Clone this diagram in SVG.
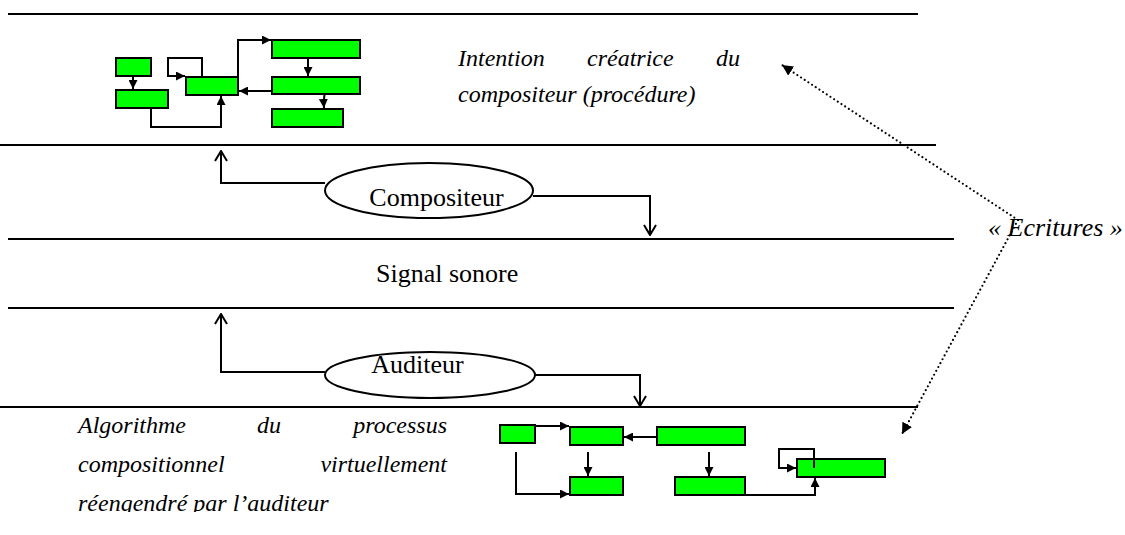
<svg xmlns="http://www.w3.org/2000/svg" width="1125" height="535" viewBox="0 0 1125 535">
<style>
.rule{stroke:#000;stroke-width:2.2;fill:none}
.box{fill:#00ff00;stroke:#000;stroke-width:2}
.c{stroke:#000;stroke-width:2;fill:none}
.big{stroke:#000;stroke-width:2;fill:none}
.dot{stroke:#000;stroke-width:2.2;fill:none;stroke-dasharray:0 4.4;stroke-linecap:round}
.ell{fill:#fff;stroke:#000;stroke-width:2}
.t{font-family:"Liberation Serif","Times New Roman",serif;font-size:26px;fill:#000}
.ti{font-family:"Liberation Serif","Times New Roman",serif;font-size:24px;font-style:italic;fill:#000}
.te{font-family:"Liberation Serif","Times New Roman",serif;font-size:26px;font-style:italic;fill:#000}
</style>
<defs>
<marker id="tri" viewBox="0 0 10 10" refX="10" refY="5" markerWidth="9" markerHeight="9" markerUnits="userSpaceOnUse" orient="auto">
<path d="M0,0 L10,5 L0,10 z" fill="#000"/>
</marker>
<marker id="vee" viewBox="0 0 12 14" refX="11" refY="7" markerWidth="12" markerHeight="14" markerUnits="userSpaceOnUse" orient="auto">
<path d="M1,1 L11,7 L1,13" fill="none" stroke="#000" stroke-width="2"/>
</marker>
<marker id="dtri" viewBox="0 0 10 10" refX="10" refY="5" markerWidth="11" markerHeight="11" markerUnits="userSpaceOnUse" orient="auto">
<path d="M0,0 L10,5 L0,10 z" fill="#000"/>
</marker>
<clipPath id="clipB"><rect x="0" y="400" width="500" height="112"/></clipPath>
</defs>

<g id="rules">
<line class="rule" x1="8" y1="14" x2="918" y2="14"/>
<line class="rule" x1="0" y1="145" x2="936" y2="145"/>
<line class="rule" x1="8" y1="239" x2="954" y2="239"/>
<line class="rule" x1="8" y1="308" x2="954" y2="308"/>
<line class="rule" x1="0" y1="407" x2="918" y2="407"/>
</g>

<g id="connectors">
<!-- top block diagram -->
<line class="c" x1="133" y1="76" x2="133" y2="89" marker-end="url(#tri)"/>
<path class="c" d="M202,77 L202,58 L168,58 L168,76 L185,76" marker-end="url(#tri)"/>
<path class="c" d="M151,108 L151,127 L221,127 L221,96" marker-end="url(#tri)"/>
<path class="c" d="M238,77 L238,40 L271,40" marker-end="url(#tri)"/>
<line class="c" x1="308" y1="58" x2="308" y2="76" marker-end="url(#tri)"/>
<line class="c" x1="272" y1="91" x2="239" y2="91" marker-end="url(#tri)"/>
<path class="c" d="M327,89 Q323,94 324,108" marker-end="url(#tri)"/>
<!-- compositeur -->
<path class="big" d="M325,183 L221,183 L221,151" marker-end="url(#vee)"/>
<path class="big" d="M533,196 L650,196 L650,235" marker-end="url(#vee)"/>
<!-- auditeur -->
<path class="big" d="M325,372 L221,372 L221,314" marker-end="url(#vee)"/>
<path class="big" d="M535,375 L640,375 L640,406" marker-end="url(#vee)"/>
<!-- bottom block diagram -->
<line class="c" x1="535" y1="426" x2="569" y2="426" marker-end="url(#tri)"/>
<line class="c" x1="657" y1="437" x2="624" y2="437" marker-end="url(#tri)"/>
<line class="c" x1="588" y1="452" x2="588" y2="476" marker-end="url(#tri)"/>
<path class="c" d="M516,452 L516,494 L569,494" marker-end="url(#tri)"/>
<line class="c" x1="709" y1="452" x2="709" y2="476" marker-end="url(#tri)"/>
<path class="c" d="M745,495 L815,495 L815,478" marker-end="url(#tri)"/>
<path class="c" d="M814,468 L814,449 L779,449 L779,468 L796,468" marker-end="url(#tri)"/>
<!-- dotted Ecritures -->
<line class="dot" x1="1018" y1="220" x2="782" y2="65" marker-end="url(#dtri)"/>
<line class="dot" x1="1018" y1="220" x2="902" y2="434" marker-end="url(#dtri)"/>
</g>

<g id="top-blocks">
<rect class="box" x="116" y="58" width="35" height="18"/>
<rect class="box" x="116" y="90" width="52" height="18"/>
<rect class="box" x="186" y="77" width="52" height="18"/>
<rect class="box" x="272" y="40" width="88" height="18"/>
<rect class="box" x="272" y="77" width="88" height="17"/>
<rect class="box" x="272" y="109" width="71" height="18"/>
</g>

<g id="intention">
<text class="ti" x="458" y="66">Intention</text>
<text class="ti" x="587" y="66">créatrice</text>
<text class="ti" x="740" y="66" text-anchor="end">du</text>
<text class="ti" x="458" y="102">compositeur (procédure)</text>
</g>

<g id="compositeur">
<ellipse class="ell" cx="429" cy="190.5" rx="104" ry="27.5"/>
<text class="t" x="436.5" y="205.5" text-anchor="middle">Compositeur</text>
</g>

<g id="signal">
<text class="t" x="376" y="282">Signal sonore</text>
</g>

<g id="auditeur">
<ellipse class="ell" cx="430" cy="375" rx="105" ry="23"/>
<text class="t" x="417.5" y="373" text-anchor="middle">Auditeur</text>
</g>

<g id="algorithme" clip-path="url(#clipB)">
<text class="ti" x="78" y="433">Algorithme</text>
<text class="ti" x="257" y="433">du</text>
<text class="ti" x="447" y="433" text-anchor="end">processus</text>
<text class="ti" x="78" y="472">compositionnel</text>
<text class="ti" x="447" y="472" text-anchor="end">virtuellement</text>
<text class="ti" x="78" y="511">réengendré par l’auditeur</text>
</g>

<g id="bottom-blocks">
<rect class="box" x="500" y="425" width="35" height="18"/>
<rect class="box" x="570" y="427" width="53" height="18"/>
<rect class="box" x="657" y="427" width="88" height="18"/>
<rect class="box" x="570" y="477" width="53" height="18"/>
<rect class="box" x="675" y="477" width="70" height="18"/>
<rect class="box" x="797" y="459" width="88" height="18"/>
<line class="c" x1="814" y1="459" x2="814" y2="468"/>
</g>

<g id="ecritures">
<text class="te" x="988" y="236">« Ecritures »</text>
</g>
</svg>
